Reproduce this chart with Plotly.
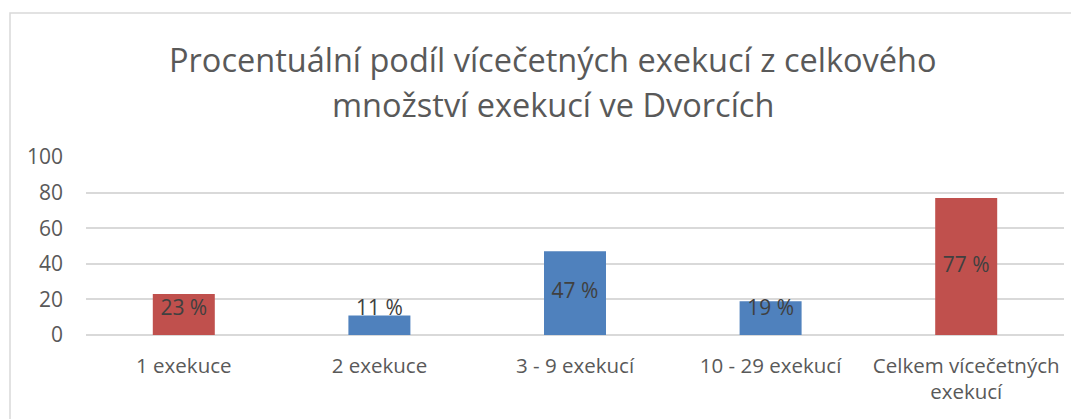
import plotly.graph_objects as go

categories = ["1 exekuce", "2 exekuce", "3 - 9 exekucí", "10 - 29 exekucí", "Celkem vícečetných<br>exekucí"]
values = [23, 11, 47, 19, 77]
labels = ["23 %", "11 %", "47 %", "19 %", "77 %"]
colors = ["#C0504D", "#4F81BD", "#4F81BD", "#4F81BD", "#C0504D"]
y_ticks = [0, 20, 40, 60, 80, 100]
title_lines = ["Procentuální podíl vícečetných exekucí z celkového", "množství exekucí ve Dvorcích"]

FONT = "Open Sans, Liberation Sans, Arial, sans-serif"

# page body has an 8px margin; figure is drawn from (8, 8)
W, H = 1071, 411
L, T, R, B = 78, 149, 15, 84
PH = H - T - B  # plot height
PW = W - L - R

# Excel keeps small-bar labels slightly above the bar centre
label_y = [max(v / 2, 14) for v in values]

fig = go.Figure()
fig.add_trace(go.Bar(
    x=categories, y=values,
    marker=dict(color=colors, line=dict(width=0)),
    width=0.317, hoverinfo="skip",
))
fig.add_trace(go.Scatter(
    x=categories, y=label_y, text=labels, mode="text",
    textposition="middle center",
    textfont=dict(family=FONT, size=21, color="#404040"),
    hoverinfo="skip",
))

def ypaper(y_fig):
    return (T + PH - y_fig) / PH

annotations = [
    dict(text=title_lines[0], x=0.477, xref="paper", y=ypaper(52), yref="paper",
         xanchor="center", yanchor="middle", showarrow=False,
         font=dict(family=FONT, size=32.5, color="#595959")),
    dict(text=title_lines[1], x=0.477, xref="paper", y=ypaper(96), yref="paper",
         xanchor="center", yanchor="middle", showarrow=False,
         font=dict(family=FONT, size=32.5, color="#595959")),
]

fig.update_layout(
    width=W, height=H,
    margin=dict(l=L, r=R, t=T, b=B),
    paper_bgcolor="white", plot_bgcolor="white",
    showlegend=False,
    annotations=annotations,
    xaxis=dict(
        showgrid=False, showline=False, zeroline=False,
        tickfont=dict(family=FONT, size=20.5, color="#595959"),
        ticks="", ticklabelstandoff=16,
    ),
    yaxis=dict(
        range=[0, 100], tickvals=y_ticks,
        showgrid=True, gridcolor="#D9D9D9", gridwidth=1.5,
        zeroline=True, zerolinecolor="#D9D9D9", zerolinewidth=1.5,
        showline=False, ticks="",
        tickfont=dict(family=FONT, size=21, color="#595959"),
        ticklabelstandoff=22,
    ),
    shapes=[dict(
        type="rect", xref="paper", yref="paper",
        x0=(2 - L) / PW, x1=(1069 - L) / PW,
        y0=ypaper(420), y1=ypaper(5),
        line=dict(color="#D9D9D9", width=1.5), fillcolor="rgba(0,0,0,0)",
        layer="below",
    )],
)

fig.write_html("out.html")
